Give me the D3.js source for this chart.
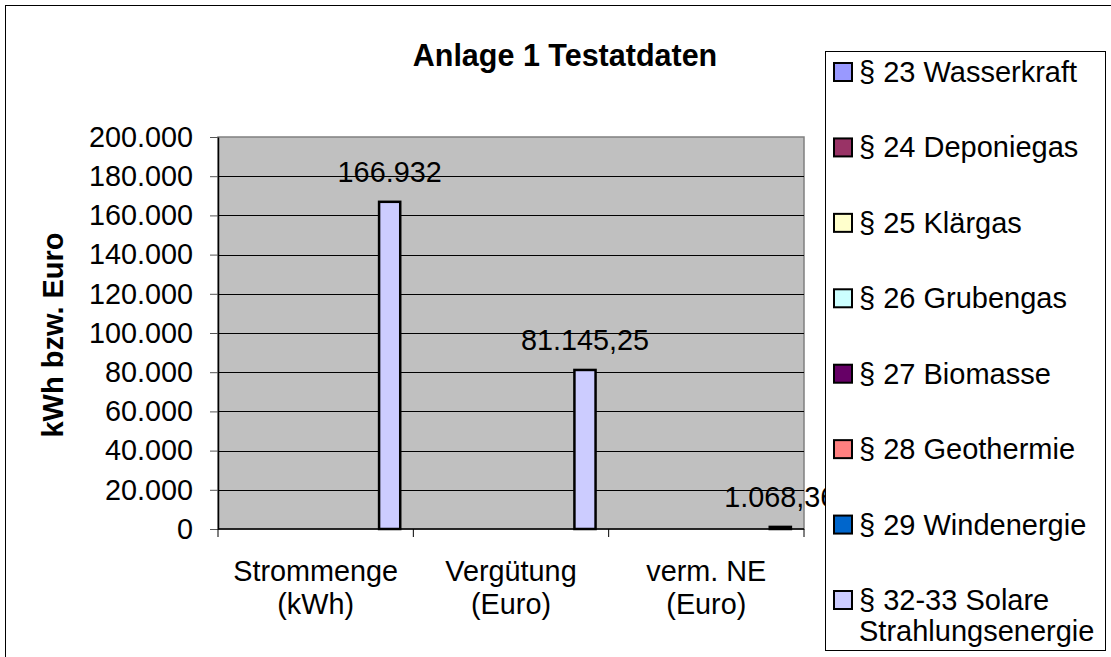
<!DOCTYPE html>
<html>
<head>
<meta charset="utf-8">
<script src="https://cdn.jsdelivr.net/npm/d3@7"></script>
<style>
  body { margin: 0; background: #fff; }
  svg text { font-family: "Liberation Sans", Arial, sans-serif; fill: #000; }
</style>
</head>
<body>
<div id="chart"></div>
<script>
const width = 1111, height = 657;
const plot = { left: 218, top: 137, right: 804, bottom: 529 };
const fs = 28.8;

// data
const categories = ["Strommenge (kWh)", "Vergütung (Euro)", "verm. NE (Euro)"];
const categoryLines = [["Strommenge", "(kWh)"], ["Vergütung", "(Euro)"], ["verm. NE", "(Euro)"]];
const seriesNames = ["§ 23 Wasserkraft", "§ 24 Deponiegas", "§ 25 Klärgas", "§ 26 Grubengas",
  "§ 27 Biomasse", "§ 28 Geothermie", "§ 29 Windenergie", "§ 32-33 Solare Strahlungsenergie"];
const seriesColors = ["#9999FF", "#993366", "#FFFFCC", "#CCFFFF", "#660066", "#FF8080", "#0066CC", "#CCCCFF"];
const solareValues = [166932, 81145.25, 1068.36];
const otherValues = [0, 0, 0];
const labelDecimals = [0, 2, 2];
const yTicks = [0, 20000, 40000, 60000, 80000, 100000, 120000, 140000, 160000, 180000, 200000];

const values = seriesNames.map((s, i) => i === 7 ? solareValues : otherValues);

const de = d3.formatLocale({ decimal: ",", thousands: ".", grouping: [3], currency: ["", " €"] });

const svg = d3.select("#chart").append("svg")
  .attr("width", width)
  .attr("height", height);

// outer chart border
svg.append("rect")
  .attr("x", 5.5).attr("y", 5.5)
  .attr("width", 1120).attr("height", 670)
  .attr("fill", "#fff").attr("stroke", "#000").attr("stroke-width", 1);

const x0 = d3.scaleBand().domain(categories).range([plot.left, plot.right]);
const x1 = d3.scaleBand().domain(seriesNames).range([0, x0.bandwidth()]).paddingOuter(0.62);
const y = d3.scaleLinear().domain([0, 200000]).range([plot.bottom, plot.top]);

// plot area
svg.append("rect")
  .attr("x", plot.left).attr("y", plot.top)
  .attr("width", plot.right - plot.left).attr("height", plot.bottom - plot.top)
  .attr("fill", "#C0C0C0").attr("stroke", "#808080").attr("stroke-width", 1.5);

// gridlines
svg.append("g").selectAll("line")
  .data(yTicks.filter(d => d > 0 && d < 200000))
  .join("line")
  .attr("x1", plot.left).attr("x2", plot.right)
  .attr("y1", d => Math.round(y(d)) + 0.5).attr("y2", d => Math.round(y(d)) + 0.5)
  .attr("stroke", "#000").attr("stroke-width", 1);

// y axis
const yAxis = svg.append("g")
  .attr("transform", `translate(${plot.left},0)`)
  .call(d3.axisLeft(y).tickValues(yTicks).tickFormat(de.format(",.0f")).tickSize(8).tickSizeOuter(0).tickPadding(17));
yAxis.select(".domain").attr("stroke", "#000").attr("stroke-width", 1.5);
yAxis.selectAll(".tick line").attr("stroke", "#555");
yAxis.selectAll("text").attr("font-size", fs).attr("font-family", "Liberation Sans, Arial, sans-serif");

// x axis line + boundary ticks
svg.append("line")
  .attr("x1", plot.left).attr("x2", plot.right)
  .attr("y1", plot.bottom).attr("y2", plot.bottom)
  .attr("stroke", "#000").attr("stroke-width", 1.5);
const bounds = categories.map(c => x0(c)).concat([plot.right]);
svg.append("g").selectAll("line")
  .data(bounds)
  .join("line")
  .attr("x1", d => d).attr("x2", d => d)
  .attr("y1", plot.bottom).attr("y2", plot.bottom + 8)
  .attr("stroke", "#000").attr("stroke-width", 1);

// category labels
const catG = svg.append("g").selectAll("text")
  .data(categories)
  .join("text")
  .attr("x", d => x0(d) + x0.bandwidth() / 2)
  .attr("y", 581)
  .attr("text-anchor", "middle")
  .attr("font-size", fs);
catG.each(function(d, i) {
  d3.select(this).selectAll("tspan")
    .data(categoryLines[i])
    .join("tspan")
    .attr("x", x0(d) + x0.bandwidth() / 2)
    .attr("dy", (t, j) => j === 0 ? 0 : 33)
    .text(t => t);
});

// bars
const barData = [];
seriesNames.forEach((s, si) => categories.forEach((c, ci) => {
  barData.push({ series: s, cat: c, value: values[si][ci], color: seriesColors[si], ci });
}));

svg.append("g").selectAll("rect")
  .data(barData.filter(d => d.value > 0))
  .join("rect")
  .attr("x", d => x0(d.cat) + x1(d.series))
  .attr("y", d => y(d.value))
  .attr("width", x1.bandwidth())
  .attr("height", d => y(0) - y(d.value))
  .attr("fill", d => d.color)
  .attr("stroke", "#000").attr("stroke-width", 2.5);

// data labels
svg.append("g").selectAll("text")
  .data(barData.filter(d => d.value > 0))
  .join("text")
  .attr("x", d => x0(d.cat) + x1(d.series) + x1.bandwidth() / 2)
  .attr("y", d => y(d.value) - 20)
  .attr("text-anchor", "middle")
  .attr("font-size", fs)
  .text(d => de.format(`,.${labelDecimals[d.ci]}f`)(d.value));

// title
svg.append("text")
  .attr("x", 565).attr("y", 66)
  .attr("text-anchor", "middle")
  .attr("font-size", 30.5).attr("font-weight", "bold")
  .text("Anlage 1 Testatdaten");

// y axis title
svg.append("text")
  .attr("transform", "translate(63,335) rotate(-90)")
  .attr("text-anchor", "middle")
  .attr("font-size", 29).attr("font-weight", "bold")
  .text("kWh bzw. Euro");

// legend
const legend = svg.append("g");
legend.append("rect")
  .attr("x", 825.5).attr("y", 51.5)
  .attr("width", 280).attr("height", 599)
  .attr("fill", "#fff").attr("stroke", "#000").attr("stroke-width", 1);

const rowY = d3.scalePoint().domain(seriesNames).range([72, 600]);
const item = legend.selectAll(".item")
  .data(seriesNames)
  .join("g")
  .attr("class", "item")
  .attr("transform", d => `translate(0,${rowY(d)})`);
item.append("rect")
  .attr("x", 834).attr("y", -9)
  .attr("width", 18).attr("height", 18)
  .attr("fill", (d, i) => seriesColors[i])
  .attr("stroke", "#000").attr("stroke-width", 2);
item.append("text")
  .attr("x", 859).attr("y", 10)
  .attr("font-size", 29)
  .each(function(d) {
    const parts = d === seriesNames[7] ? ["§ 32-33 Solare", "Strahlungsenergie"] : [d];
    d3.select(this).selectAll("tspan")
      .data(parts)
      .join("tspan")
      .attr("x", 859)
      .attr("dy", (t, j) => j === 0 ? 0 : 31)
      .text(t => t);
  });
</script>
</body>
</html>
